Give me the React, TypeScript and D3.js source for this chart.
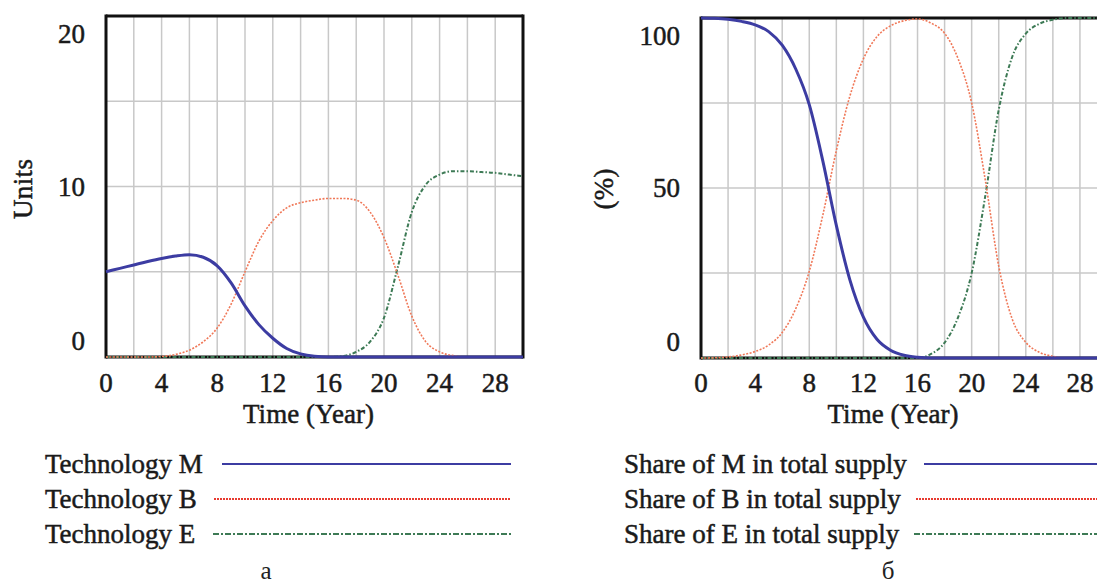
import React from 'react';
import * as d3 from 'd3';

// time axis (years)
const years = [0, 1, 2, 3, 4, 5, 6, 7, 8, 9, 10, 11, 12, 13, 14, 15, 16, 17, 18, 19, 20, 21, 22, 23, 24, 25, 26, 27, 28, 29, 30];
const xTicks = [0, 4, 8, 12, 16, 20, 24, 28];
const xGrid = [2, 4, 6, 8, 10, 12, 14, 16, 18, 20, 22, 24, 26, 28];

// panel a: units
const techM = [5.0, 5.2, 5.4, 5.6, 5.78, 5.92, 6.0, 5.85, 5.35, 4.35, 3.0, 1.9, 1.1, 0.5, 0.18, 0.04, 0, 0, 0, 0, 0, 0, 0, 0, 0, 0, 0, 0, 0, 0, 0];
const techB = [0, 0, 0, 0, 0.03, 0.15, 0.4, 0.9, 1.7, 3.1, 5.0, 6.8, 8.0, 8.75, 9.05, 9.2, 9.3, 9.3, 9.2, 8.5, 7.0, 4.8, 2.4, 0.9, 0.3, 0.08, 0, 0, 0, 0, 0];
const techE = [0, 0, 0, 0, 0, 0, 0, 0, 0, 0, 0, 0, 0, 0, 0, 0, 0, 0.05, 0.3, 0.9, 2.3, 5.3, 8.5, 10.1, 10.7, 10.9, 10.9, 10.85, 10.8, 10.7, 10.6];
const unitTicks = [0, 10, 20];
const unitGrid = [5, 10, 15];

// panel б: share (%)
const shareM = [100, 99.9, 99.6, 99, 98, 96, 92, 85, 74.5, 58, 39, 23, 12, 5.5, 2.3, 0.8, 0.2, 0, 0, 0, 0, 0, 0, 0, 0, 0, 0, 0, 0, 0, 0];
const shareB = [0, 0.05, 0.3, 0.9, 1.9, 3.8, 7.5, 14.5, 25.5, 42, 61, 77, 88, 94.5, 97.7, 99.2, 99.7, 98.5, 95.5, 88, 75, 52.5, 27, 11.4, 4.6, 1.7, 0.5, 0, 0, 0, 0];
const shareE = [0, 0, 0, 0, 0, 0, 0, 0, 0, 0, 0, 0, 0, 0, 0, 0, 0, 1.2, 4.5, 12, 25, 47.5, 73, 88.6, 95.4, 98.3, 99.5, 100, 100, 100, 100];
const shareTicks = [0, 50, 100];
const shareGrid = [25, 50, 75];

const legendA = ['Technology M', 'Technology B', 'Technology E'];
const legendB = ['Share of M in total supply', 'Share of B in total supply', 'Share of E in total supply'];

const font = '"Liberation Serif", "Times New Roman", serif';
const ink = '#1a1a1a';
const styles = [
  { color: '#3c3ca2', width: 3, dash: undefined as string | undefined, legColor: '#3c3ca2', legWidth: 2, legDash: undefined as string | undefined },
  { color: '#f07858', width: 1.6, dash: '2 1.5', legColor: '#e83a30', legWidth: 2, legDash: '2 1' },
  { color: '#3d7a55', width: 2, dash: '4 2 1.5 2', legColor: '#3d7a55', legWidth: 2, legDash: '6 2 2 2' },
];

function Panel(props) {
  const { left, right, top, bottom, yMax, series, yTicks, yGrid, yTitle, yTitleX, yTitleLen, showRight } = props;
  const x = d3.scaleLinear().domain([0, 30]).range([left, right]);
  const y = d3.scaleLinear().domain([0, yMax]).range([bottom, top]);
  const line = d3.line<number>()
    .x((d, i) => x(years[i]))
    .y(d => y(d))
    .curve(d3.curveMonotoneX);

  return <g>
    {xGrid.map(t => <line key={'gx' + t} x1={x(t)} x2={x(t)} y1={top} y2={bottom} stroke="#c8c8c8" strokeWidth={1.5} />)}
    {yGrid.map(v => <line key={'gy' + v} x1={left} x2={right} y1={y(v)} y2={y(v)} stroke="#c8c8c8" strokeWidth={1.5} />)}
    <line x1={left} x2={left} y1={top - 1.5} y2={bottom + 1.5} stroke="#111" strokeWidth={3} />
    <line x1={left} x2={right} y1={top} y2={top} stroke="#111" strokeWidth={3} />
    <line x1={left} x2={right} y1={bottom} y2={bottom} stroke="#111" strokeWidth={3} />
    {showRight && <line x1={right} x2={right} y1={top - 1.5} y2={bottom + 1.5} stroke="#111" strokeWidth={3} />}
    {[2, 1, 0].map(i => <path key={'s' + i} d={line(series[i]) || ''} fill="none"
      stroke={styles[i].color} strokeWidth={styles[i].width} strokeDasharray={styles[i].dash} />)}
    {xTicks.map(t => <text key={'tx' + t} x={x(t)} y={383} textAnchor="middle" dominantBaseline="central"
      fontFamily={font} fontSize={27} fill={ink} stroke={ink} strokeWidth={0.5}>{t}</text>)}
    {yTicks.map((v, i) => {
      let yy = y(v);
      if (i === 0) yy -= 16;
      if (i === yTicks.length - 1) yy += 18;
      return <text key={'ty' + v} x={left - 21} y={yy} textAnchor="end" dominantBaseline="central"
        fontFamily={font} fontSize={27} fill={ink} stroke={ink} strokeWidth={0.5}>{v}</text>;
    })}
    <text x={(left + Math.min(right, 1097)) / 2 - 6} y={414} textAnchor="middle" dominantBaseline="central"
      fontFamily={font} fontSize={27} textLength={131} lengthAdjust="spacing" fill={ink} stroke={ink} strokeWidth={0.5}>Time (Year)</text>
    <text transform={`translate(${yTitleX},189) rotate(-90)`} textAnchor="middle" dominantBaseline="central"
      fontFamily={font} fontSize={27} textLength={yTitleLen} lengthAdjust="spacing" fill={ink} stroke={ink} strokeWidth={0.5}>{yTitle}</text>
  </g>;
}

function Legend(props) {
  const { textX, lineStarts, lineEnd, labels } = props;
  const rows = [464, 499, 534];
  return <g>
    {labels.map((lab, i) => <g key={lab}>
      <text x={textX} y={rows[i]} dominantBaseline="central" fontFamily={font} fontSize={27}
        fill={ink} stroke={ink} strokeWidth={0.5}>{lab}</text>
      <line x1={lineStarts[i]} x2={lineEnd} y1={rows[i]} y2={rows[i]} stroke={styles[i].legColor}
        strokeWidth={styles[i].legWidth} strokeDasharray={styles[i].legDash} />
    </g>)}
  </g>;
}

export default function App() {
  return <svg width={1097} height={584} style={{ position: 'absolute', left: 0, top: 0, background: '#fff' }}>
    <rect width={1097} height={584} fill="#fff" />
    <Panel left={106} right={523} top={16} bottom={357} yMax={20} series={[techM, techB, techE]}
      yTicks={unitTicks} yGrid={unitGrid} yTitle="Units" yTitleX={23} yTitleLen={60} showRight={true} />
    <Panel left={701} right={1107} top={18} bottom={358} yMax={100} series={[shareM, shareB, shareE]}
      yTicks={shareTicks} yGrid={shareGrid} yTitle="(%)" yTitleX={604} yTitleLen={41} showRight={false} />
    <Legend textX={45} lineStarts={[222, 214, 213]} lineEnd={511} labels={legendA} />
    <Legend textX={624} lineStarts={[924, 916, 914]} lineEnd={1097} labels={legendB} />
    <text x={266} y={579} textAnchor="middle" fontFamily={font} fontSize={25} fill="#222">а</text>
    <text x={888} y={579} textAnchor="middle" fontFamily={font} fontSize={25} fill="#222">б</text>
  </svg>;
}
